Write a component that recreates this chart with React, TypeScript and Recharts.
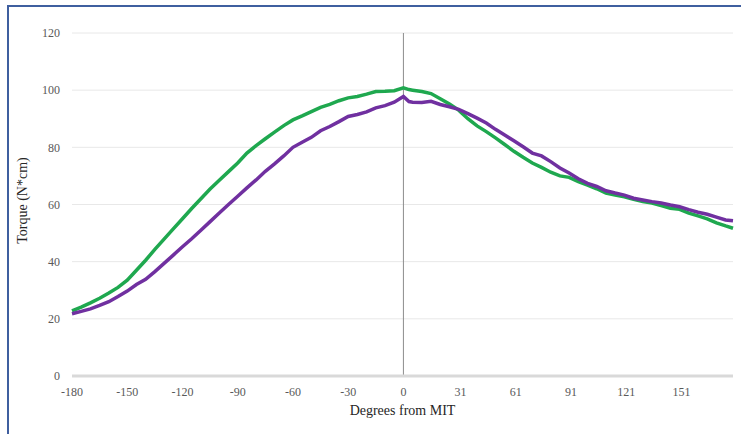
import React from "react";
import { LineChart, Line, XAxis, YAxis, CartesianGrid, ReferenceLine } from "recharts";

const degrees = [-180,-175,-170,-165,-160,-155,-150,-145,-140,-135,-130,-125,-120,-115,-110,-105,-100,-95,-90,-85,-80,-75,-70,-65,-60,-55,-50,-45,-40,-35,-30,-25,-20,-15,-10,-5,0,3,5,10,15,20,25,30,35,40,45,50,55,60,65,70,75,80,85,90,95,100,105,110,115,120,125,130,135,140,145,150,155,160,165,170,175,179];

const greenTorque = [22.8,24.1,25.6,27.2,29,31,33.5,37,40.5,44.3,47.9,51.5,55,58.6,62,65.4,68.5,71.5,74.5,78,80.6,83,85.3,87.6,89.6,91,92.5,94,95,96.3,97.3,97.8,98.6,99.5,99.6,99.8,100.8,100.2,100,99.5,98.8,97,95.2,93,90,87.5,85.5,83.3,81,78.6,76.5,74.5,73,71.3,70,69.5,68,66.8,65.5,64,63.3,62.7,61.8,61,60.5,59.6,58.7,58.3,57,56,55,53.6,52.5,51.7];

const purpleTorque = [21.8,22.6,23.5,24.7,26,27.8,29.7,32,33.8,36.5,39.4,42.3,45.2,48,51,54,57,60,62.9,65.8,68.6,71.6,74.2,77,80,81.8,83.5,85.8,87.3,89,90.8,91.5,92.4,93.8,94.6,95.8,97.8,96,95.8,95.7,96.1,95,94.2,93.3,91.8,90.2,88.5,86.3,84.3,82.3,80.2,78,77,75,72.8,71,69,67.4,66.3,64.8,64,63.3,62.2,61.6,61,60.5,59.8,59.2,58.2,57.3,56.6,55.6,54.6,54.3];

const xTicks = [-180,-150,-120,-90,-60,-30,0,31,61,91,121,151];
const yTicks = [0,20,40,60,80,100,120];

const data = degrees.map((d, i) => ({ deg: d, green: greenTorque[i], purple: purpleTorque[i] }));

const FONT = "'Liberation Serif', 'Times New Roman', serif";

const YTitle = (props: any) => {
  const vb = props.viewBox || {};
  const cx = 22;
  const cy = (vb.y ?? 33) + (vb.height ?? 343) / 2 - 4;
  return (
    <text x={cx} y={cy} transform={`rotate(-90, ${cx}, ${cy})`} textAnchor="middle" dominantBaseline="central"
      style={{ fontFamily: FONT, fontSize: 14, fill: "#262626" }}>
      Torque (N*cm)
    </text>
  );
};

export default function App() {
  return (
    <div style={{ position: "absolute", left: 0, top: 0, width: 741, height: 434, background: "#fff", overflow: "hidden", fontFamily: FONT }}>
      <style>{`.recharts-cartesian-axis-tick-value, .recharts-label { font-family: 'Liberation Serif', 'Times New Roman', serif; }`}</style>
      <div style={{ position: "absolute", left: 7, top: 5, width: 760, height: 460, borderTop: "2px solid #3f5f9f", borderLeft: "2px solid #3f5f9f", boxSizing: "border-box" }} />
      <div style={{ position: "absolute", left: 0, top: 0 }}>
        <LineChart width={741} height={434} data={data} margin={{ top: 33, right: 8, bottom: 8, left: 0 }} style={{ fontFamily: FONT }}>
          <CartesianGrid vertical={false} stroke="#e8e8e8" strokeWidth={1} />
          <XAxis
            dataKey="deg"
            type="number"
            domain={[-180, 179]}
            ticks={xTicks}
            interval={0}
            height={50}
            tickLine={false}
            axisLine={{ stroke: "#d9d9d9", strokeWidth: 3 }}
            tickMargin={5}
            tick={{ fontFamily: FONT, fontSize: 12, fill: "#595959" }}
            label={{ value: "Degrees from MIT", position: "insideBottom", offset: 11, style: { fontFamily: FONT, fontSize: 14, fill: "#262626" } }}
          />
          <YAxis
            type="number"
            domain={[0, 120]}
            ticks={yTicks}
            width={72}
            axisLine={false}
            tickLine={false}
            tickSize={6}
            tickMargin={6}
            tick={{ fontFamily: FONT, fontSize: 12, fill: "#595959" }}
            label={<YTitle />}
          />
          <ReferenceLine x={0} stroke="#8c8c8c" strokeWidth={1} />
          <Line type="linear" dataKey="green" stroke="#1fa84f" strokeWidth={3.5} dot={false} isAnimationActive={false} />
          <Line type="linear" dataKey="purple" stroke="#7030a0" strokeWidth={3.5} dot={false} isAnimationActive={false} />
        </LineChart>
      </div>
    </div>
  );
}
